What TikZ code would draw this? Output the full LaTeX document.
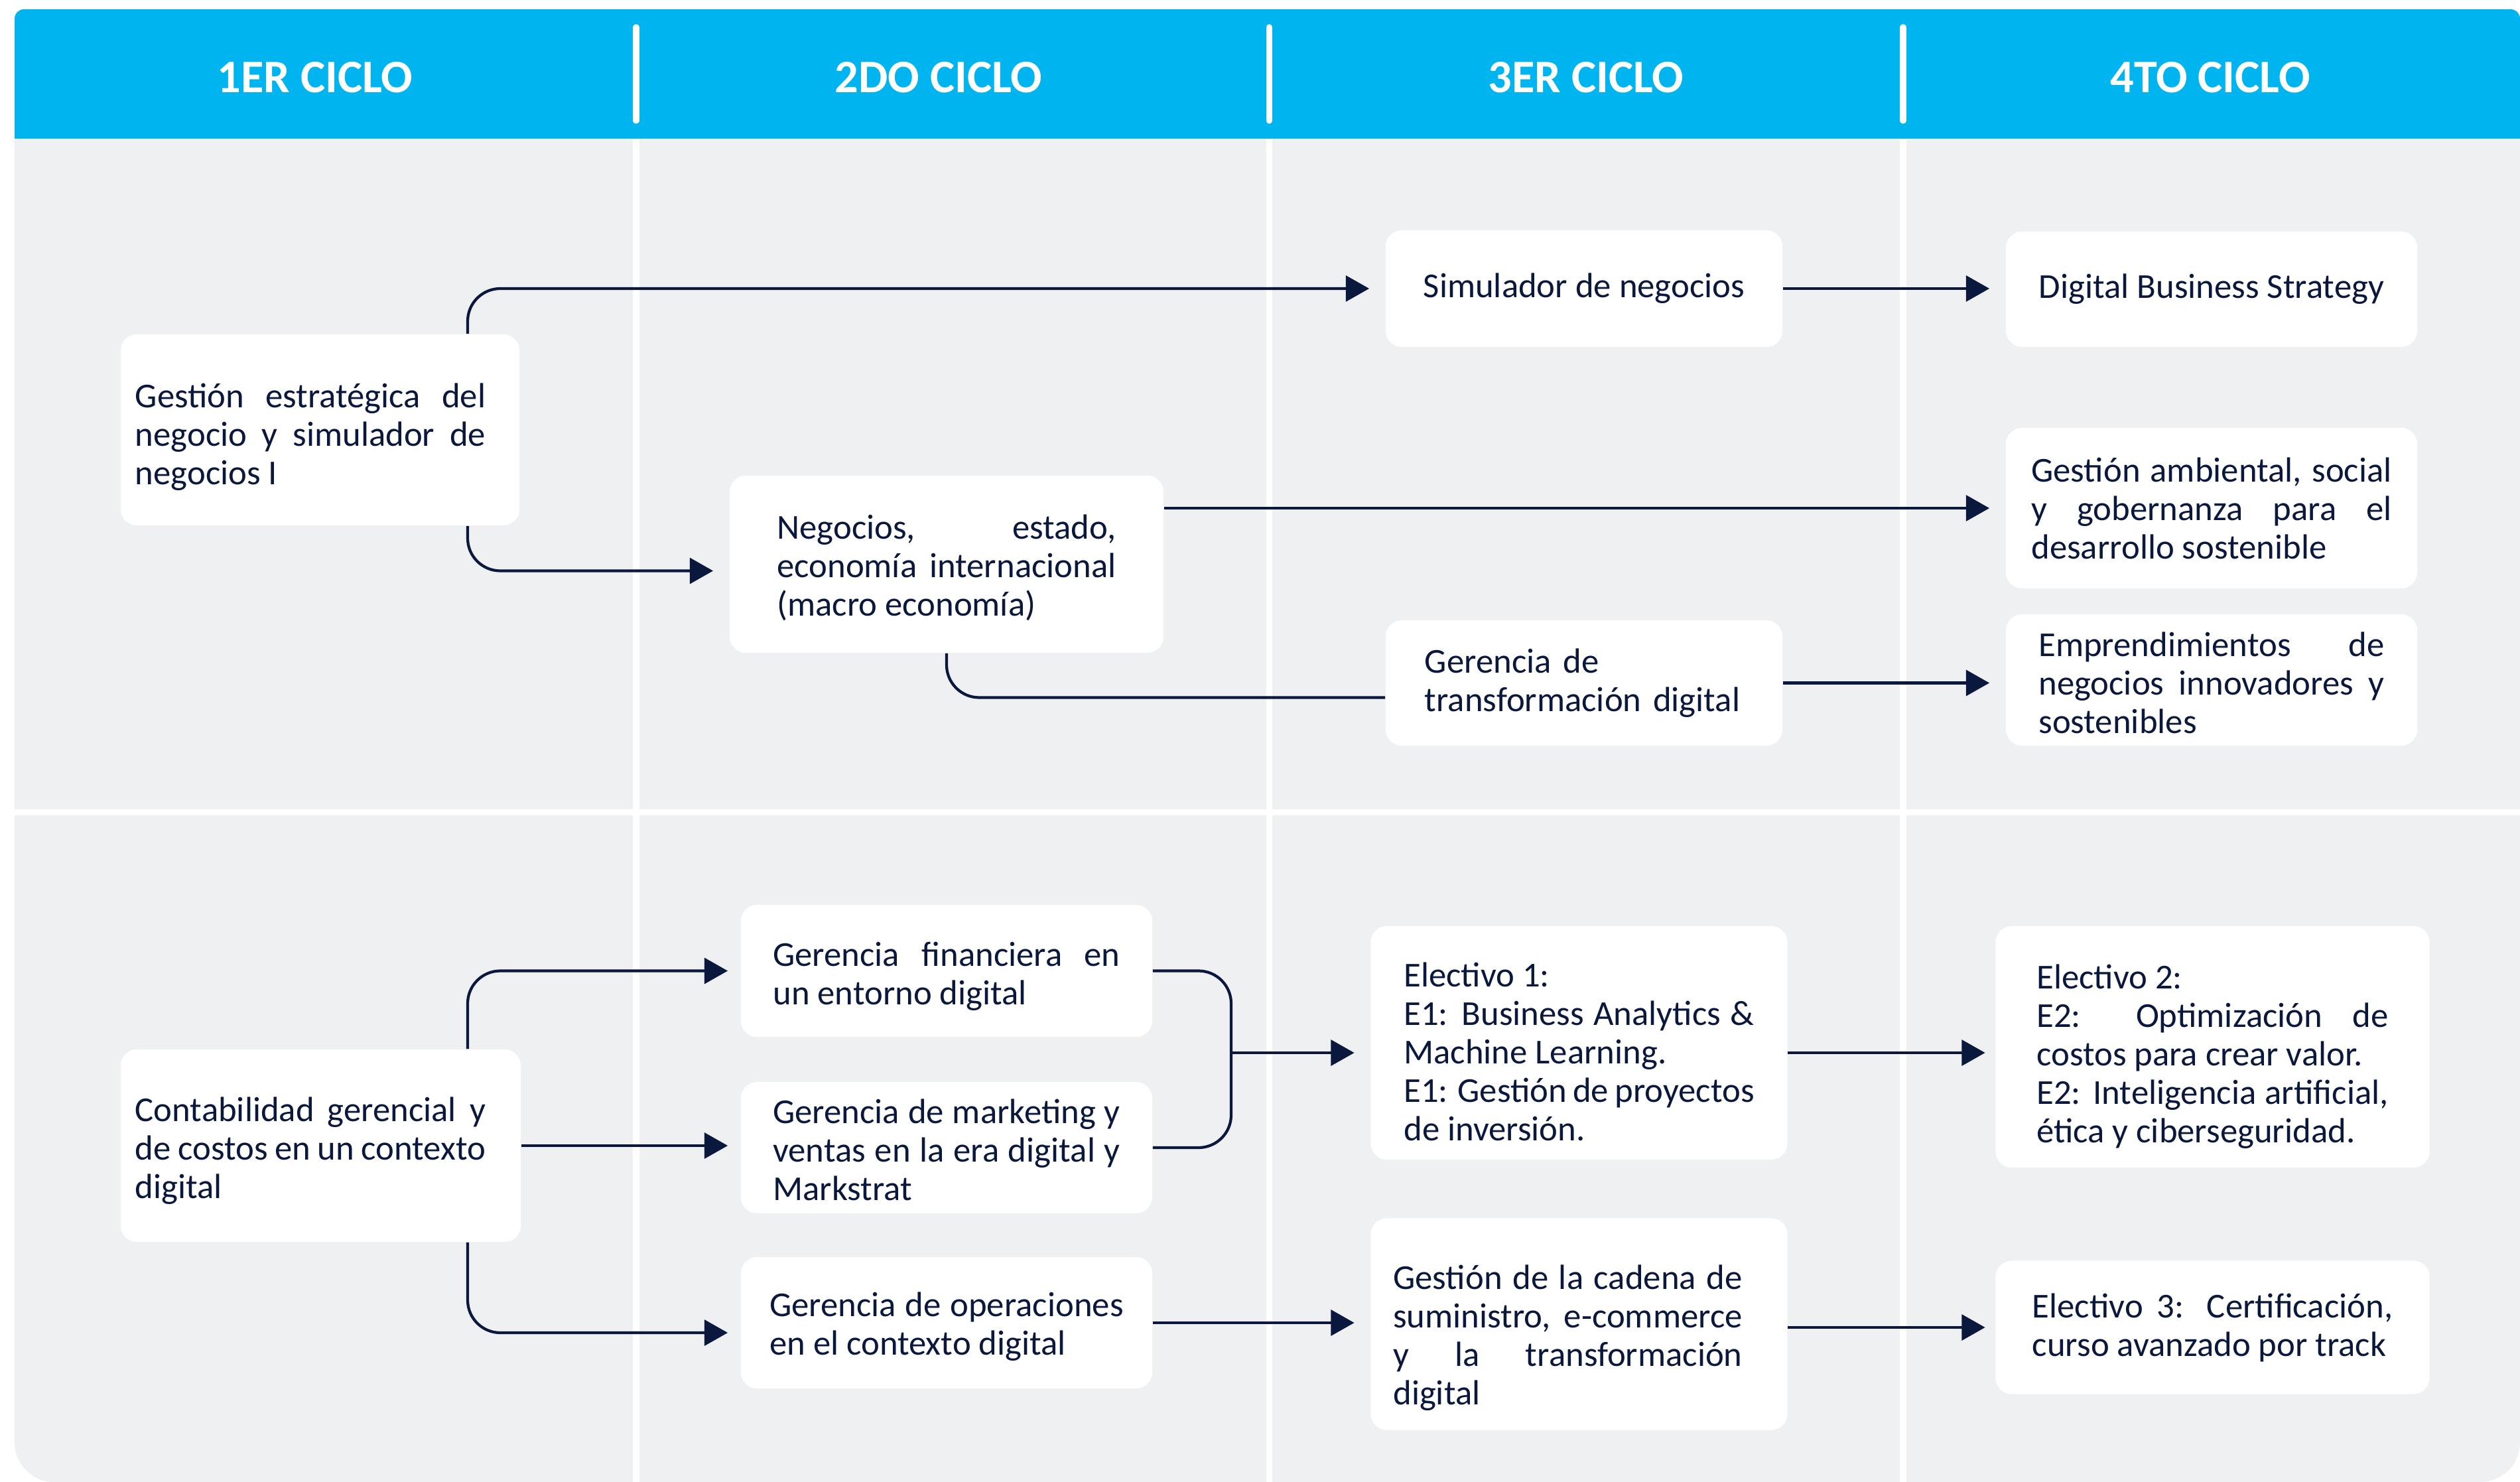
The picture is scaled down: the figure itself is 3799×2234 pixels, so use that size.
\documentclass[tikz,border=0pt]{standalone}
\usepackage{fontspec}
\setmainfont{Carlito}
\usetikzlibrary{positioning,arrows.meta}
\definecolor{cycleblue}{RGB}{0,180,239}
\definecolor{panelgray}{RGB}{239,240,242}
\definecolor{navy}{RGB}{11,24,61}
\hyphenpenalty=10000
\exhyphenpenalty=10000
% strut that lowers the text block of a box by #1
\newcommand{\topgap}[1]{\rule{0pt}{\dimexpr 11pt+#1+#1\relax}}

\tikzset{
  course/.style={fill=white, rounded corners=7pt, text=navy, inner sep=0pt, align=justify, font=\fontsize{15}{16.5}\selectfont},
  link/.style={draw=navy, line width=1.2pt, rounded corners=14pt},
  arr/.style={link, -{Triangle[length=10pt,width=11pt]}, shorten >=0.24cm},
  cyclehead/.style={text=white, font=\fontsize{20}{23}\selectfont\bfseries},
  divider/.style={draw=white, line width=2.6pt},
}

\begin{document}
\begin{tikzpicture}[x=0.01cm, y=-0.01cm]
    \useasboundingbox (0,0) rectangle (3799,2234);
    % panel and header band
    \fill[panelgray, rounded corners=17pt] (22,100) rectangle (3799,2234);
    \fill[cycleblue] (22,209) [rounded corners=4pt] -- (22,14) -- (3799,14) [sharp corners] -- (3799,209) -- cycle;
    \foreach \x in {959,1913.5,2869} {
        \draw[divider, line cap=round] (\x,41) -- (\x,182);
        \draw[divider] (\x,209) -- (\x,2234);
    }
    \draw[divider] (22,1224.5) -- (3799,1224.5);

    \node[cyclehead] (ciclo1) at (475,117) {1ER CICLO};
    \node[cyclehead] (ciclo2) at (1415,117) {2DO CICLO};
    \node[cyclehead] (ciclo3) at (2391,117) {3ER CICLO};
    \node[cyclehead] (ciclo4) at (3332,117) {4TO CICLO};

    % upper track
    \node[course, minimum width=6.01cm, minimum height=2.88cm, text width=5.57cm] (gestion) at (482.5,648) {\parbox{5.28cm}{\topgap{0.1cm}Gestión estratégica del\linebreak negocio y simulador de\linebreak negocios I}};
    \node[course, align=center, minimum width=5.98cm, minimum height=1.76cm] (simulador) at (2388,435) {Simulador de negocios};
    \node[course, align=center, minimum width=6.2cm, minimum height=1.74cm] (digital) at (3334,436) {Digital Business Strategy};
    \node[course, minimum width=6.54cm, minimum height=2.67cm, text width=5.11cm] (negocios) at (1427,850.5) {\topgap{0.04cm}Negocios, estado,\linebreak economía internacional\linebreak (macro economía)};
    \node[course, minimum width=6.2cm, minimum height=2.42cm, text width=5.43cm] (ambiental) at (3334,766) {Gestión ambiental, social\linebreak y gobernanza para el\linebreak desarrollo sostenible};
    \node[course, align=left, minimum width=5.98cm, minimum height=1.89cm, text width=4.8cm] (transformacion) at (2388,1029.5) {Gerencia de\\ transformación digital};
    \node[course, minimum width=6.2cm, minimum height=1.98cm, text width=5.21cm] (emprend) at (3334,1025) {\topgap{0.03cm}Emprendimientos de\linebreak negocios innovadores y\linebreak sostenibles};

    % lower track
    \node[course, minimum width=6.03cm, minimum height=2.9cm, text width=5.59cm] (contab) at (483.5,1727) {\parbox{5.28cm}{\topgap{0.07cm}Contabilidad gerencial y\linebreak de costos en un contexto\linebreak digital}};
    \node[course, minimum width=6.2cm, minimum height=1.99cm, text width=5.23cm] (financiera) at (1427,1463.5) {\topgap{0.07cm}Gerencia financiera en\linebreak un entorno digital};
    \node[course, minimum width=6.2cm, minimum height=1.98cm, text width=5.23cm] (marketing) at (1427,1730) {\topgap{0.02cm}Gerencia de marketing y\linebreak ventas en la era digital y\linebreak Markstrat};
    \node[course, minimum width=6.2cm, minimum height=1.98cm, text width=5.33cm] (operaciones) at (1427,1994) {\topgap{0.05cm}Gerencia de operaciones\linebreak en el contexto digital};
    \node[course, minimum width=6.28cm, minimum height=3.52cm, text width=5.28cm] (electivo1) at (2380.5,1572) {\topgap{0.12cm}Electivo 1:\\ E1: Business Analytics \&\linebreak Machine Learning.\\ E1: Gestión de proyectos\linebreak de inversión.};
    \node[course, minimum width=6.28cm, minimum height=3.19cm, text width=5.6cm] (cadena) at (2380.5,1996) {\parbox{5.26cm}{\topgap{0.2cm}Gestión de la cadena de\linebreak suministro, e-commerce\linebreak y la transformación\linebreak digital}};
    \node[course, minimum width=6.54cm, minimum height=3.64cm, text width=5.3cm] (electivo2) at (3335.5,1578) {\topgap{0.14cm}Electivo 2:\\ E2: Optimización de\linebreak costos para crear valor.\\ E2: Inteligencia artificial,\linebreak ética y ciberseguridad.};
    \node[course, minimum width=6.54cm, minimum height=2.01cm, text width=5.43cm] (electivo3) at (3335.5,2001) {Electivo 3: Certificación,\linebreak curso avanzado por track};

    % connectors
    \coordinate (stem) at (705,0);
    \coordinate (merge) at (1856,1587);
    \draw[arr] (stem |- gestion.north) |- (simulador.west);
    \draw[arr] (stem |- gestion.south) |- ([yshift=-0.1cm]negocios.west);
    \draw[arr] (simulador.east) -- (simulador.east -| digital.west);
    \draw[arr] (ambiental.west -| negocios.east) -- (ambiental.west);
    \draw[link] (negocios.south) |- ([yshift=-0.22cm]transformacion.west);
    \draw[arr] (transformacion.east) -- (transformacion.east -| emprend.west);
    \draw[arr, shorten >=0.19cm] (stem |- contab.north) |- (financiera.west);
    \draw[arr, shorten >=0.19cm] (contab.east) -- (contab.east -| marketing.west);
    \draw[arr, shorten >=0.19cm] (stem |- contab.south) |- ([yshift=-0.15cm]operaciones.west);
    \draw[link] (financiera.east) -| (merge) |- (marketing.east);
    \draw[arr] (merge) -- (merge -| electivo1.west);
    \draw[arr, shorten >=0.15cm] (merge -| electivo1.east) -- (merge -| electivo2.west);
    \draw[arr] (operaciones.east) -- (operaciones.east -| cadena.west);
    \draw[arr, shorten >=0.15cm] (cadena.east |- electivo3.west) -- (electivo3.west);
\end{tikzpicture}
\end{document}
